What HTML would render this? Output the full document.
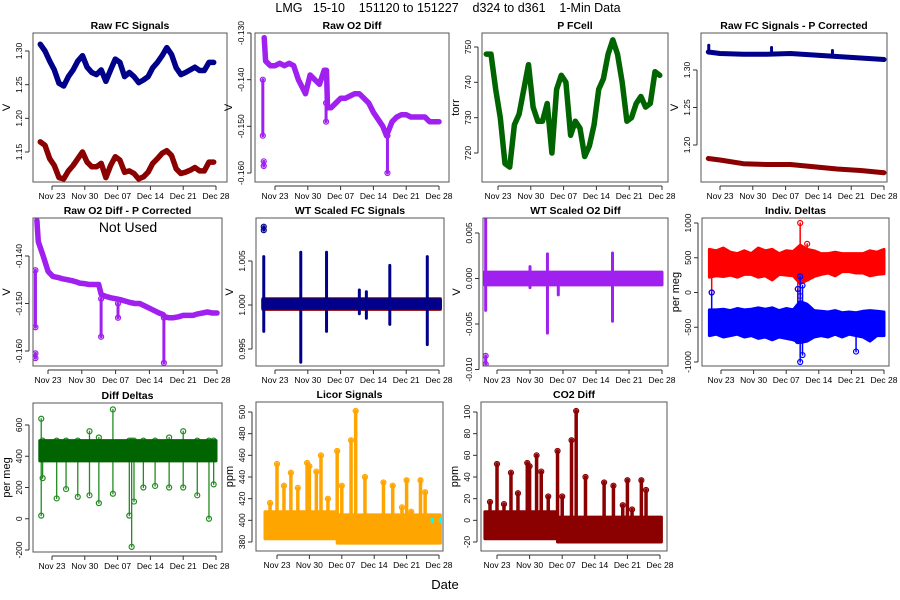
<!DOCTYPE html>
<html><head><meta charset="utf-8"><style>
body{margin:0;background:#fff}
svg{display:block;font-family:"Liberation Sans",sans-serif}
</style></head><body>
<svg id="chart" width="900" height="600" viewBox="0 0 900 600">
<rect width="900" height="600" fill="#fff"/>
<text x="448" y="12" text-anchor="middle" font-size="12.5" style="white-space:pre" xml:space="preserve">LMG   15-10    151120 to 151227    d324 to d361    1-Min Data</text>
<text x="445" y="589" text-anchor="middle" font-size="13">Date</text>
</svg>
<script>
// ---------- data (days relative to Nov 23) ----------
const dateTicks = [0,7,14,21,28,35];
const dateLabels = ["Nov 23","Nov 30","Dec 07","Dec 14","Dec 21","Dec 28"];
const dayT = [-2.5,-1.5,-0.5,0.5,1.5,2.5,3.5,4.5,5.5,6.5,7.5,8.5,9.5,10.5,11.5,12.5,13.5,14.5,15.5,16.5,17.5,18.5,19.5,20.5,21.5,22.5,23.5,24.5,25.5,26.5,27.5,28.5,29.5,30.5,31.5,32.5,33.5,34.5];
const fcBlue = [1.310,1.300,1.285,1.272,1.252,1.248,1.262,1.272,1.285,1.293,1.276,1.268,1.265,1.272,1.255,1.272,1.288,1.283,1.262,1.268,1.262,1.253,1.257,1.262,1.275,1.283,1.293,1.305,1.295,1.275,1.265,1.268,1.272,1.276,1.271,1.271,1.283,1.283];
const fcRed = [1.165,1.160,1.140,1.130,1.112,1.110,1.122,1.130,1.140,1.150,1.135,1.128,1.128,1.133,1.112,1.130,1.143,1.138,1.120,1.122,1.118,1.110,1.113,1.120,1.133,1.140,1.148,1.152,1.145,1.125,1.118,1.120,1.123,1.127,1.122,1.122,1.135,1.135];
const pCell = [748,748,738,730,717,716,728,731,738,745,733,729,729,734,720,738,742,740,725,729,727,719,722,728,738,741,748,752,748,740,729,730,734,736,733,734,743,742];
const o2T = [-2.3,-2,-1,0,1,2,3,4,5,6,6.5,7.5,8.5,9.5,10.5,11,11.2,12,13,14,15,16,17,18,19,20,21,22,23,23.8,24.2,25,26,27,28,29,30,31,32,33,34,35];
const o2Raw = [-0.131,-0.136,-0.137,-0.137,-0.1365,-0.137,-0.1365,-0.137,-0.140,-0.142,-0.143,-0.139,-0.140,-0.141,-0.138,-0.138,-0.146,-0.146,-0.145,-0.144,-0.144,-0.1435,-0.143,-0.143,-0.144,-0.145,-0.147,-0.1485,-0.150,-0.152,-0.151,-0.149,-0.148,-0.1475,-0.1475,-0.148,-0.148,-0.148,-0.148,-0.149,-0.149,-0.149];
const o2Corr = [-0.1325,-0.137,-0.140,-0.1432,-0.1443,-0.1445,-0.1448,-0.145,-0.1452,-0.1455,-0.1457,-0.1458,-0.146,-0.146,-0.146,-0.148,-0.1482,-0.1485,-0.1488,-0.149,-0.1492,-0.1495,-0.1498,-0.150,-0.150,-0.1505,-0.151,-0.1515,-0.152,-0.1523,-0.1528,-0.153,-0.153,-0.1528,-0.1525,-0.1525,-0.1525,-0.1522,-0.152,-0.1518,-0.152,-0.152];
const pcT = [-2.5,0,5,10,15,20,25,30,35];
const pcBlue = [1.324,1.322,1.321,1.321,1.322,1.320,1.318,1.316,1.314];
const pcRed = [1.182,1.180,1.175,1.174,1.174,1.171,1.168,1.166,1.163];
const bandT = [-2.5,-1,0.5,2,3.5,5,6.5,8,9.5,11,12.5,14,15.5,17,18.5,20,21.5,23,24.5,26,27.5,29,30.5,32,33.5,35];
const redHi = [620,600,640,580,560,600,560,640,600,620,560,600,590,680,620,600,560,560,580,560,560,560,560,600,580,620];
const redLo = [220,240,230,250,220,260,260,220,240,180,260,250,240,130,180,230,260,280,240,300,300,280,280,240,260,270];
const blueHi = [-250,-250,-240,-260,-230,-250,-240,-220,-240,-220,-260,-230,-250,-130,-170,-260,-270,-280,-260,-290,-280,-290,-270,-260,-270,-280];
const blueLo = [-620,-600,-640,-620,-600,-640,-620,-660,-640,-680,-640,-660,-680,-720,-700,-640,-620,-640,-600,-640,-600,-620,-640,-700,-620,-620];
const ddSpikeT = [-2.3,-2,1,3,5.5,8,10,13,16.5,17,17.5,19.5,22,25,28,31,33.5,34.5];
const ddSpikeLo = [20,260,130,190,140,150,100,160,20,-180,110,200,210,200,200,150,0,220];
const ddSpikeHi = [640,500,500,500,500,560,520,700,500,500,500,500,500,520,560,500,500,500];
const licT = [-1.5,0,1.5,3,4.5,6.5,7,8.5,9.5,11,13,14,16,17,19,23,25,27,28,29,31,32];
const licHi = [416,452,432,444,430,453,450,445,460,420,464,432,474,501,440,435,432,412,437,408,437,426];
const co2Hi = [17,52,15,44,25,53,50,60,45,22,64,22,74,101,40,35,32,14,37,10,37,28];
const wtSpikeT = [-2.4,5.5,11,18,19.5,24.5,32.5];
const wtSpikeLo = [0.997,0.9935,0.997,0.999,0.9985,0.9978,0.9955];
const wtSpikeHi = [1.0055,1.006,1.006,1.0017,1.0015,1.0045,1.0055];
const wtoT = [-2.4,7,10.7,13,24.5];
const wtoLo = [-0.0035,-0.001,-0.006,-0.0018,-0.0047];
const wtoHi = [0.0066,0.0013,0.0027,0.0005,0.0028];

// ---------- drawing ----------
const svg = document.getElementById('chart');
const NS = 'http://www.w3.org/2000/svg';
function mk(tag, attrs, parent){
  const e = document.createElementNS(NS, tag);
  for (const k in attrs) e.setAttribute(k, attrs[k]);
  (parent||svg).appendChild(e);
  return e;
}
function panel(cfg){
  const g = mk('g', {});
  
  
  const xs = t => cfg.x23 + (cfg.x28 - cfg.x23) * t / 35;
  const ys = v => cfg.y1 + (v - cfg.v1) / (cfg.v2 - cfg.v1) * (cfg.y2 - cfg.y1);
  const L = cfg.L, R = cfg.R, T = cfg.T, B = cfg.B;
  const clipId = 'c' + cfg.name;
  const cp = mk('clipPath', {id: clipId}, g);
  mk('rect', {x:L, y:T, width:R-L, height:B-T}, cp);
  const plot = mk('g', {'clip-path':'url(#'+clipId+')'}, g);
  cfg.draw(plot, xs, ys);
  const box = mk('rect', {x:L, y:T, width:R-L, height:B-T, fill:'none', stroke:'#555', 'stroke-width':1}, g);
  
  
  const tt = mk('text', {x:(L+R)/2, y:T-4, 'text-anchor':'middle', 'font-size':10.5, 'font-weight':'bold'}, g);
  tt.textContent = cfg.title;
  
  
  dateTicks.forEach((d, i) => {
    const x = xs(d);
    mk('line', {x1:x, x2:x, y1:B+4, y2:B+8, stroke:'#333'}, g);
    const lb = mk('text', {x:x, y:B+17, 'text-anchor':'middle', 'font-size':8.5}, g);
    lb.textContent = dateLabels[i];
    
    
  });
  mk('line', {x1:xs(0), x2:xs(35), y1:B+4, y2:B+4, stroke:'#333'}, g);
  cfg.yTicks.forEach((v, i) => {
    const y = ys(v);
    mk('line', {x1:L-8, x2:L-4, y1:y, y2:y, stroke:'#333'}, g);
    const lb = mk('text', {x:L-11, y:y, 'text-anchor':'middle', 'font-size':8.5, transform:'rotate(-90 '+(L-11)+' '+y+')'}, g);
    lb.textContent = cfg.yLabels[i];
    
    
  });
  mk('line', {x1:L-4, x2:L-4, y1:ys(cfg.yTicks[0]), y2:ys(cfg.yTicks[cfg.yTicks.length-1]), stroke:'#333'}, g);
  const yl = mk('text', {x:L-23, y:(T+B)/2, 'text-anchor':'middle', 'font-size':11, transform:'rotate(-90 '+(L-23)+' '+((T+B)/2)+')'}, g);
  yl.textContent = cfg.ylab;
  
  
  return g;
}
function line(p, xs, ys, T, V, col, w){
  const pts = T.map((t,i)=>xs(t).toFixed(1)+','+ys(V[i]).toFixed(1)).join(' ');
  const e = mk('polyline', {points:pts, fill:'none', stroke:col, 'stroke-width':w, 'stroke-linejoin':'round', 'stroke-linecap':'round'}, p);
  
  
}
function band(p, xs, ys, T, lo, hi, col){
  const up = T.map((t,i)=>xs(t).toFixed(1)+','+ys(hi[i]).toFixed(1));
  const dn = T.map((t,i)=>xs(t).toFixed(1)+','+ys(lo[i]).toFixed(1)).reverse();
  const e = mk('polygon', {points:up.concat(dn).join(' '), fill:col, stroke:col, 'stroke-width':3, 'stroke-linejoin':'round'}, p);
  
  
}
function spikes(p, xs, ys, T, lo, hi, col, w, dots){
  T.forEach((t,i)=>{
    const e = mk('line', {x1:xs(t), x2:xs(t), y1:ys(lo[i]), y2:ys(hi[i]), stroke:col, 'stroke-width':w, 'stroke-linecap':'round'}, p);
    
    
    if (dots) {
      mk('circle', {cx:xs(t), cy:ys(lo[i]), r:2.5, fill:'none', stroke:col, 'stroke-width':1.2}, p);
      mk('circle', {cx:xs(t), cy:ys(hi[i]), r:2.5, fill:'none', stroke:col, 'stroke-width':1.2}, p);
    }
  });
}

// Row 1
panel({name:'raw-fc-signals-panel', title:'Raw FC Signals', ylab:'V', L:33,R:227,T:33,B:182, x23:52,x28:216, v1:1.30,y1:51,v2:1.15,y2:152,
  yTicks:[1.15,1.20,1.25,1.30], yLabels:['1.15','1.20','1.25','1.30'],
  draw:(p,xs,ys)=>{ line(p,xs,ys,dayT,fcBlue,'#00008B',5.5); line(p,xs,ys,dayT,fcRed,'#8B0000',5.5); }});
panel({name:'raw-o2-diff-panel', title:'Raw O2 Diff', ylab:'V', L:255,R:449,T:33,B:182, x23:275,x28:439, v1:-0.130,y1:33,v2:-0.160,y2:173,
  yTicks:[-0.160,-0.150,-0.140,-0.130], yLabels:['-0.160','-0.150','-0.140','-0.130'],
  draw:(p,xs,ys)=>{ line(p,xs,ys,o2T,o2Raw,'#A020F0',5.5);
    spikes(p,xs,ys,[-2.6,-2.4,10.9,24],[-0.152,-0.1585,-0.149,-0.160],[-0.140,-0.1575,-0.145,-0.152],'#A020F0',3,true); }});
panel({name:'p-fcell-panel', title:'P FCell', ylab:'torr', L:482,R:668,T:33,B:182, x23:498,x28:662, v1:750,y1:47,v2:720,y2:153,
  yTicks:[720,730,740,750], yLabels:['720','730','740','750'],
  draw:(p,xs,ys)=>{ line(p,xs,ys,dayT,pCell,'#006400',5.5); }});
panel({name:'raw-fc-p-corrected-panel', title:'Raw FC Signals - P Corrected', ylab:'V', L:701,R:887,T:33,B:182, x23:720,x28:884, v1:1.30,y1:70,v2:1.20,y2:145,
  yTicks:[1.20,1.25,1.30], yLabels:['1.20','1.25','1.30'],
  draw:(p,xs,ys)=>{ line(p,xs,ys,pcT,pcBlue,'#00008B',5); line(p,xs,ys,pcT,pcRed,'#8B0000',5);
    spikes(p,xs,ys,[-2.4,11,24],[1.323,1.322,1.319],[1.333,1.330,1.326],'#00008B',3,false); }});

// Row 2
const p5 = panel({name:'raw-o2-p-corrected-panel', title:'Raw O2 Diff - P Corrected', ylab:'V', L:33,R:222,T:218,B:366, x23:48,x28:217, v1:-0.140,y1:256,v2:-0.160,y2:351,
  yTicks:[-0.160,-0.150,-0.140], yLabels:['-0.160','-0.150','-0.140'],
  draw:(p,xs,ys)=>{ line(p,xs,ys,o2T,o2Corr,'#A020F0',5.5);
    spikes(p,xs,ys,[-2.6,-2.6,11,14.5,24],[-0.155,-0.1615,-0.157,-0.153,-0.1625],[-0.143,-0.1605,-0.149,-0.150,-0.153],'#A020F0',3,true); }});
const nu = mk('text', {x:128, y:232, 'text-anchor':'middle', 'font-size':14}, p5);
nu.textContent = 'Not Used';


panel({name:'wt-scaled-fc-panel', title:'WT Scaled FC Signals', ylab:'V', L:256,R:444,T:218,B:366, x23:275,x28:439, v1:1.005,y1:261,v2:0.995,y2:349,
  yTicks:[0.995,1.000,1.005], yLabels:['0.995','1.000','1.005'],
  draw:(p,xs,ys)=>{ band(p,xs,ys,[-2.6,35.3],[0.9995,0.9995],[1.0007,1.0007],'#8B0000');
    band(p,xs,ys,[-2.6,35.3],[0.99965,0.99965],[1.0006,1.0006],'#00008B');
    spikes(p,xs,ys,wtSpikeT,wtSpikeLo,wtSpikeHi,'#00008B',3,false);
    spikes(p,xs,ys,[-2.4],[1.0085],[1.0089],'#00008B',3,true); }});
panel({name:'wt-scaled-o2-panel', title:'WT Scaled O2 Diff', ylab:'V', L:483,R:668,T:218,B:366, x23:497,x28:662, v1:0.005,y1:233,v2:-0.005,y2:324,
  yTicks:[-0.010,-0.005,0.000,0.005], yLabels:['-0.010','-0.005','0.000','0.005'],
  draw:(p,xs,ys)=>{ band(p,xs,ys,[-2.6,35],[-0.0007,-0.0007],[0.0007,0.0007],'#A020F0');
    spikes(p,xs,ys,wtoT,wtoLo,wtoHi,'#A020F0',3,false);
    spikes(p,xs,ys,[-2.4],[-0.0094],[-0.0085],'#A020F0',3,true); }});
panel({name:'indiv-deltas-panel', title:'Indiv. Deltas', ylab:'per meg', L:702,R:889,T:218,B:366, x23:721,x28:884, v1:1000,y1:223,v2:-1000,y2:362,
  yTicks:[-1000,-500,0,500,1000], yLabels:['-1000','-500','0','500','1000'],
  draw:(p,xs,ys)=>{ band(p,xs,ys,bandT,redLo,redHi,'#FF0000');
    band(p,xs,ys,bandT,blueLo,blueHi,'#0000FF');
    spikes(p,xs,ys,[-2,16.5,17,18.5],[0,50,-50,200],[300,600,1000,700],'#FF0000',1.5,true);
    spikes(p,xs,ys,[-2,16.5,17,17.5,29],[-300,-700,-1000,-900,-850],[0,50,230,100,-400],'#0000FF',1.5,true); }});

// Row 3
panel({name:'diff-deltas-panel', title:'Diff Deltas', ylab:'per meg', L:33,R:222,T:403,B:552, x23:52,x28:216, v1:600,y1:425,v2:-200,y2:550,
  yTicks:[-200,0,200,400,600], yLabels:['-200','0','200','400','600'],
  draw:(p,xs,ys)=>{ spikes(p,xs,ys,ddSpikeT,ddSpikeLo,ddSpikeHi,'#228B22',1.3,true);
    band(p,xs,ys,[-2.6,35],[370,370],[500,500],'#006400'); }});
panel({name:'licor-signals-panel', title:'Licor Signals', ylab:'ppm', L:256,R:443,T:402,B:551, x23:277,x28:439, v1:500,y1:412,v2:380,y2:542,
  yTicks:[380,400,420,440,460,480,500], yLabels:['380','400','420','440','460','480','500'],
  draw:(p,xs,ys)=>{ band(p,xs,ys,[-2.6,13],[383,383],[408,408],'#FFA500');
    band(p,xs,ys,[13,35.3],[379,379],[405,405],'#FFA500');
    spikes(p,xs,ys,licT,licT.map(()=>400),licHi,'#FFA500',3.5,true);
    spikes(p,xs,ys,[33.5,35.3],[399,399],[401,401],'#00FFFF',3,false); }});
panel({name:'co2-diff-panel', title:'CO2 Diff', ylab:'ppm', L:481,R:667,T:402,B:551, x23:497,x28:660, v1:100,y1:412,v2:-20,y2:542,
  yTicks:[-20,0,20,40,60,80,100], yLabels:['-20','0','20','40','60','80','100'],
  draw:(p,xs,ys)=>{ band(p,xs,ys,[-2.6,13],[-17,-17],[8,8],'#8B0000');
    band(p,xs,ys,[13,35.3],[-20,-20],[3,3],'#8B0000');
    spikes(p,xs,ys,licT,licT.map(()=>0),co2Hi,'#8B0000',3.5,true); }});
</script>
</body></html>
